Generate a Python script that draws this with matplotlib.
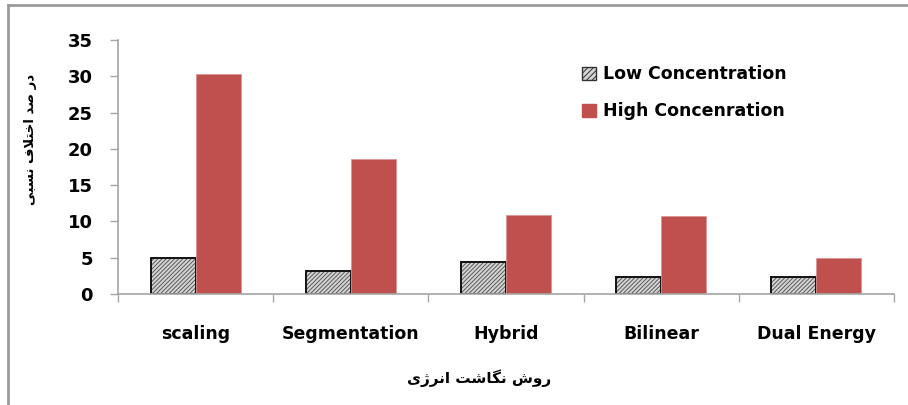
import numpy as np
import matplotlib.pyplot as plt
from matplotlib.lines import Line2D
from matplotlib.patches import Patch

methods = ['scaling', 'Segmentation', 'Hybrid', 'Bilinear', 'Dual Energy']
low_conc = [4.9, 3.2, 4.4, 2.3, 2.4]
high_conc = [30.3, 18.6, 10.9, 10.8, 5.0]
series_names = ['Low Concentration', 'High Concenration']

# Persian labels, pre-shaped (presentation forms, visual order)
xlabel_fa = '\uFEEF\uFB8A\uFEAE\uFEE7\uFE8D \uFE96\uFEB7\uFE8E\uFB95\uFEE7 \uFEB5\uFEED\uFEAD'
ylabel_fa = '\uFEF0\uFE92\uFEB4\uFEE7 \uFED1\uFEFC\uFE98\uFEA7\uFE8D \uFEAA\uFEBB \uFEAD\uFEA9'

plt.rcParams['font.family'] = ['DejaVu Sans']
plt.rcParams['hatch.linewidth'] = 0.7

fig = plt.figure(figsize=(9.08, 4.05), dpi=100)
ax = fig.add_axes([0.130, 0.274, 0.8546, 0.627])

x = np.arange(len(methods))
w = 0.29
axis_grey = '#a6a6a6'
hatch = '////////'

# low-concentration bars: hatched fill, then a dark outline on top
ax.bar(x - w / 2, low_conc, w, color='#d4d4d4', edgecolor='#5a5a5a',
       hatch=hatch, linewidth=0)
ax.bar(x - w / 2, low_conc, w, fill=False, edgecolor='#111111', linewidth=1.4)
ax.bar(x + w / 2, high_conc, w, color='#c0504d', edgecolor='#d99694', linewidth=0.6)

ax.set_xlim(-0.5, len(methods) - 0.5)
ax.set_ylim(0, 35)
ax.set_yticks(np.arange(0, 36, 5))
ax.set_yticklabels([str(v) for v in range(0, 36, 5)], fontsize=13, fontweight='bold')

ax.set_xticks(np.arange(len(methods) + 1) - 0.5)
ax.set_xticklabels([])
ax.set_xticks(x, minor=True)
ax.set_xticklabels(methods, minor=True, fontsize=12.5, fontweight='bold')
ax.tick_params(axis='x', which='minor', length=0, pad=22)
ax.tick_params(axis='x', which='major', length=6, color=axis_grey, width=1)
ax.tick_params(axis='y', length=6, color=axis_grey, width=1, pad=12)

for s in ['top', 'right']:
    ax.spines[s].set_visible(False)
for s in ['left', 'bottom']:
    ax.spines[s].set_color(axis_grey)
    ax.spines[s].set_linewidth(1.2)

handles = [Patch(facecolor='#d4d4d4', edgecolor='#333333', hatch='//////', linewidth=1),
           Patch(facecolor='#c0504d', edgecolor='#c0504d')]
ax.legend(handles, series_names, loc='upper left', bbox_to_anchor=(0.578, 0.962),
          frameon=False, handlelength=0.8, handleheight=0.8,
          handletextpad=0.4, labelspacing=1.1,
          prop={'weight': 'bold', 'size': 12.5})

fig.text(0.528, 0.067, xlabel_fa, ha='center', va='center',
         fontsize=11, fontweight='bold')
fig.text(0.034, 0.655, ylabel_fa, ha='center', va='center', rotation=90,
         fontsize=9.5, fontweight='bold')

# outer frame (top and left edges)
fig.add_artist(Line2D([0.009, 0.009], [0, 0.988], color='#9a9a9a', lw=2,
                      transform=fig.transFigure))
fig.add_artist(Line2D([0.009, 1.0], [0.988, 0.988], color='#9a9a9a', lw=2,
                      transform=fig.transFigure))

fig.savefig('out.png', dpi=100)
